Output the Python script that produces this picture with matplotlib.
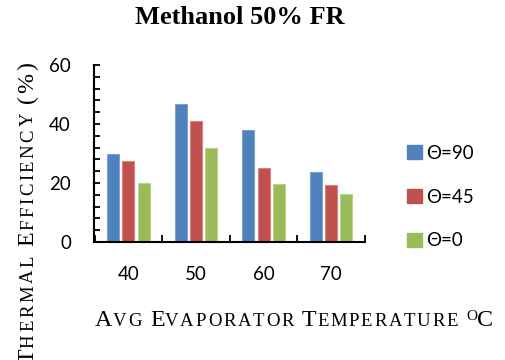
import numpy as np
import matplotlib
matplotlib.use("Agg")
import matplotlib.pyplot as plt
from matplotlib.ticker import FixedLocator, MultipleLocator, NullFormatter
from matplotlib.patches import Patch
from matplotlib.font_manager import FontProperties, findfont, get_font
from matplotlib.transforms import IdentityTransform

# ---- data ----
categories = ["40", "50", "60", "70"]
series_labels = ["\u0398=90", "\u0398=45", "\u0398=0"]
theta_90 = [29.7, 46.7, 37.9, 23.8]
theta_45 = [27.5, 41.0, 25.0, 19.2]
theta_0 = [20.1, 31.8, 19.7, 16.4]
y_ticks = [0, 20, 40, 60]

colors = ["#4F81BD", "#C0504D", "#9BBB59"]
edges = ["#7FA3D1", "#D88482", "#BBD38E"]

DPI = 100
W, H = 506, 360
fig = plt.figure(figsize=(W / DPI, H / DPI), dpi=DPI)

# axes box in pixels: left 94.5, right 365, top 65, bottom 242
ax = fig.add_axes([94.5 / W, (H - 242) / H, (365 - 94.5) / W, (242 - 65) / H])

num_font = FontProperties(family=["Lato", "Open Sans", "DejaVu Sans"], size=13.5)

x = np.arange(len(categories))
bar_w = 0.1775
offsets = [-0.225, 0.0, 0.225]
for vals, off, c, e in zip([theta_90, theta_45, theta_0], offsets, colors, edges):
    ax.bar(x + off, vals, bar_w, color=c, edgecolor=e, linewidth=0.8, zorder=2)

ax.set_xlim(-0.5, len(categories) - 0.5)
ax.set_ylim(0, 60)

for s in ["top", "right"]:
    ax.spines[s].set_visible(False)
for s in ["left", "bottom"]:
    ax.spines[s].set_linewidth(1.5)
    ax.spines[s].set_zorder(3)

# y axis: labels every 20, tick marks every 4
ax.yaxis.set_major_locator(FixedLocator(y_ticks))
ax.yaxis.set_minor_locator(MultipleLocator(4))
ax.tick_params(axis="y", which="both", direction="in", length=4, width=1.3, pad=17)
ax.set_yticklabels([str(v) for v in y_ticks], fontproperties=num_font)

# x axis: tick marks at category boundaries and centres, labels at centres
ax.xaxis.set_major_locator(FixedLocator(np.arange(-0.5, len(categories), 1.0)))
ax.xaxis.set_major_formatter(NullFormatter())
ax.xaxis.set_minor_locator(FixedLocator(x))
ax.set_xticklabels(categories, minor=True, fontproperties=num_font)
ax.tick_params(axis="x", which="major", direction="in", length=5, width=1.3)
ax.tick_params(axis="x", which="minor", direction="in", length=4, width=1.3, pad=17)

# legend
handles = [Patch(facecolor=c, edgecolor=c) for c in colors]
fig.legend(handles, series_labels, loc="center left",
           bbox_to_anchor=(407 / W, 1 - 197 / H), prop=num_font,
           frameon=False, borderpad=0, borderaxespad=0,
           handlelength=0.78, handleheight=0.78, handletextpad=0.25,
           labelspacing=1.42)

# title
fig.text(240 / W, 1 - 17 / H, "Methanol 50% FR", ha="center", va="center",
         family="Liberation Serif", weight="bold", size=19)

# ---- small-caps axis titles, laid out glyph by glyph ----
serif_file = findfont(FontProperties(family="Liberation Serif"))


def advance(ch, size_pt):
    ft = get_font(serif_file, hinting_factor=1)
    ft.set_size(size_pt, DPI)
    g = ft.load_char(ord(ch))
    return g.linearHoriAdvance / 65536.0


def run_length(pieces):
    return sum(advance(ch, size) + track
               for text, size, rise, track in pieces for ch in text)


def draw_run(pieces, x0, y0, vertical=False):
    pos = 0.0
    for text, size, rise, track in pieces:
        for ch in text:
            if vertical:
                fig.text(x0 - rise, y0 + pos, ch, transform=IdentityTransform(),
                         family="Liberation Serif", size=size, rotation=90,
                         rotation_mode="anchor", ha="left", va="baseline")
            else:
                fig.text(x0 + pos, y0 + rise, ch, transform=IdentityTransform(),
                         family="Liberation Serif", size=size,
                         ha="left", va="baseline")
            pos += advance(ch, size) + track


BIG, SMALL = 17.3, 13.5

xt = 1.6
xlabel_pieces = [
    ("A", BIG, 0, 0.5), ("VG ", SMALL, 0, xt),
    ("E", BIG, 0, 0.5), ("VAPORATOR ", SMALL, 0, xt),
    ("T", BIG, 0, 0.5), ("EMPERATURE ", SMALL, 0, xt),
    ("O", 11.0, 6, 0), ("C", BIG, 0, 0),
]
draw_run(xlabel_pieces, 95, H - 325.7)

yt = 2.4
ylabel_pieces = [
    ("T", BIG, 0, 1.0), ("HERMAL ", SMALL, 0, yt),
    ("E", BIG, 0, 1.0), ("FFICIENCY ", SMALL, 0, yt),
    ("(%)", BIG, 0, yt),
]
y_end = H - 60
draw_run(ylabel_pieces, 33.3, y_end - run_length(ylabel_pieces), vertical=True)

fig.savefig("out.png", dpi=DPI)
